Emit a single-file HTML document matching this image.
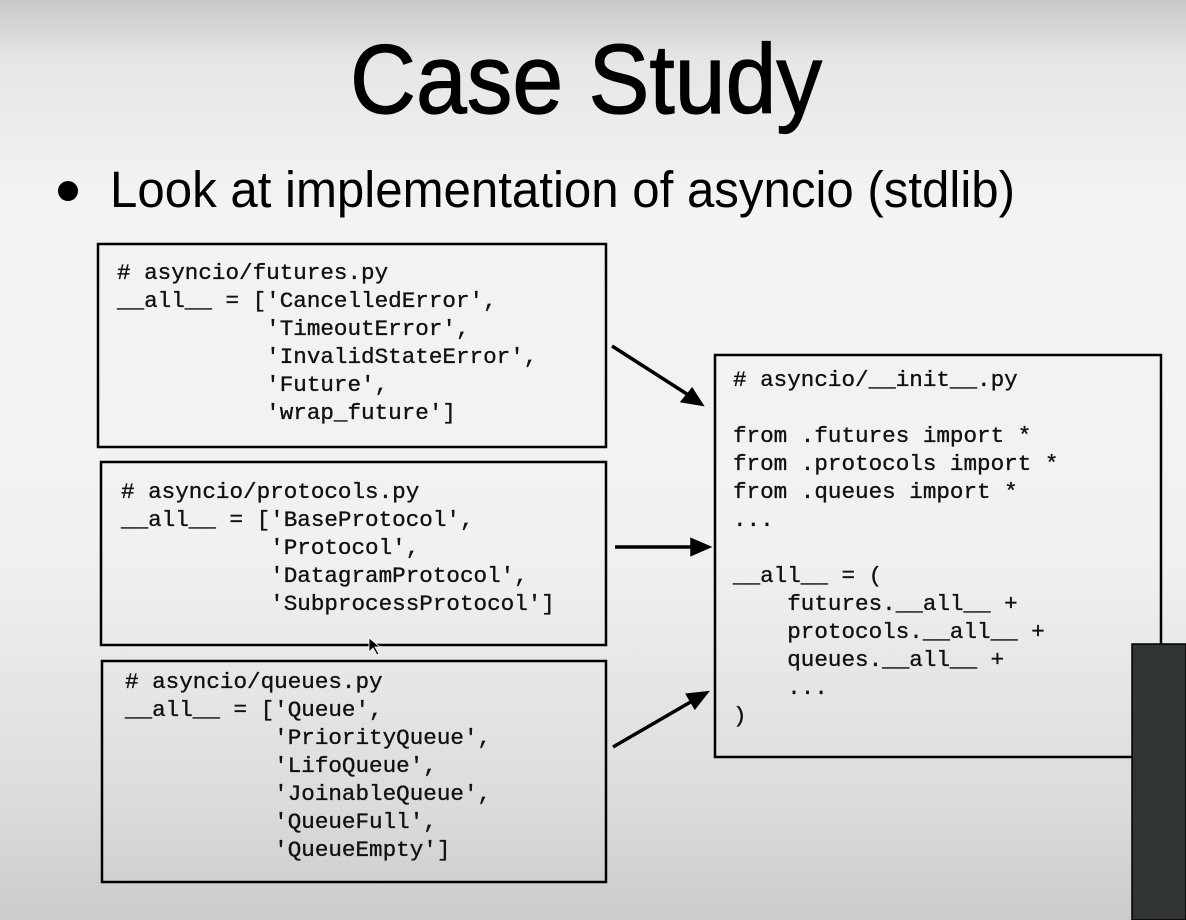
<!DOCTYPE html>
<html><head><meta charset="utf-8"><style>
html,body{margin:0;padding:0;width:1186px;height:920px;overflow:hidden}
body{background:linear-gradient(#c8c8c8 0px,#e6e6e6 60px,#f3f3f3 200px,#f1f1f1 550px,#dcdcdc 800px,#cbcbcb 920px)}
svg{position:absolute;left:0;top:0}
.c{font-family:"Liberation Mono",monospace;font-size:22.6px;fill:#111;stroke:#111;stroke-width:0.35;white-space:pre}
</style></head><body>
<svg width="1186" height="920" viewBox="0 0 1186 920">
<text x="586" y="113" text-anchor="middle" font-family="Liberation Sans,sans-serif" font-size="98" textLength="472" lengthAdjust="spacingAndGlyphs" fill="#000" stroke="#000" stroke-width="1.2">Case Study</text>
<circle cx="68" cy="191" r="10" fill="#000"/>
<text x="110" y="207" font-family="Liberation Sans,sans-serif" font-size="51" textLength="905" lengthAdjust="spacingAndGlyphs" fill="#000">Look at implementation of asyncio (stdlib)</text>
<g fill="none" stroke="#000" stroke-width="2.5">
<rect x="98" y="244" width="508" height="203"/>
<rect x="101" y="462" width="505" height="183"/>
<rect x="102" y="661" width="504" height="221"/>
<rect x="715" y="355" width="446" height="402"/>
</g>
<rect x="1132" y="644" width="54" height="276" fill="#2f3530"/>
<rect x="1132" y="644" width="54" height="276" fill="none" stroke="#000" stroke-width="1.5"/>
<g stroke="#000" stroke-width="3.5" fill="#000">
<line x1="612" y1="346" x2="690" y2="396"/><path d="M701,404 L683,401 L692,390 z"/>
<line x1="615" y1="547" x2="694" y2="547"/><path d="M708,547 L692,540 L692,554 z"/>
<line x1="613" y1="747" x2="694" y2="700"/><path d="M706,693 L688,695 L695,707 z"/>
</g>
<g class="c">
<text class="c">
<tspan x="117" y="279"># asyncio/futures.py</tspan>
<tspan x="117" y="307">__all__ = ['CancelledError',</tspan>
<tspan x="117" y="335">           'TimeoutError',</tspan>
<tspan x="117" y="363">           'InvalidStateError',</tspan>
<tspan x="117" y="391">           'Future',</tspan>
<tspan x="117" y="419">           'wrap_future']</tspan>
</text>
<text class="c">
<tspan x="121" y="498"># asyncio/protocols.py</tspan>
<tspan x="121" y="526">__all__ = ['BaseProtocol',</tspan>
<tspan x="121" y="554">           'Protocol',</tspan>
<tspan x="121" y="582">           'DatagramProtocol',</tspan>
<tspan x="121" y="610">           'SubprocessProtocol']</tspan>
</text>
<text class="c">
<tspan x="125" y="688"># asyncio/queues.py</tspan>
<tspan x="125" y="716">__all__ = ['Queue',</tspan>
<tspan x="125" y="744">           'PriorityQueue',</tspan>
<tspan x="125" y="772">           'LifoQueue',</tspan>
<tspan x="125" y="800">           'JoinableQueue',</tspan>
<tspan x="125" y="828">           'QueueFull',</tspan>
<tspan x="125" y="856">           'QueueEmpty']</tspan>
</text>
<text class="c">
<tspan x="733" y="386"># asyncio/__init__.py</tspan>
<tspan x="733" y="442">from .futures import *</tspan>
<tspan x="733" y="470">from .protocols import *</tspan>
<tspan x="733" y="498">from .queues import *</tspan>
<tspan x="733" y="526">...</tspan>
<tspan x="733" y="582">__all__ = (</tspan>
<tspan x="733" y="610">    futures.__all__ +</tspan>
<tspan x="733" y="638">    protocols.__all__ +</tspan>
<tspan x="733" y="666">    queues.__all__ +</tspan>
<tspan x="733" y="694">    ...</tspan>
<tspan x="733" y="722">)</tspan>
</text>
</g>
<path d="M369,638 L369,652 L373,648 L377,655 L379,654 L375,647 L380,647 z" fill="#000" stroke="#fff" stroke-width="0.8"/>
</svg>
</body></html>
